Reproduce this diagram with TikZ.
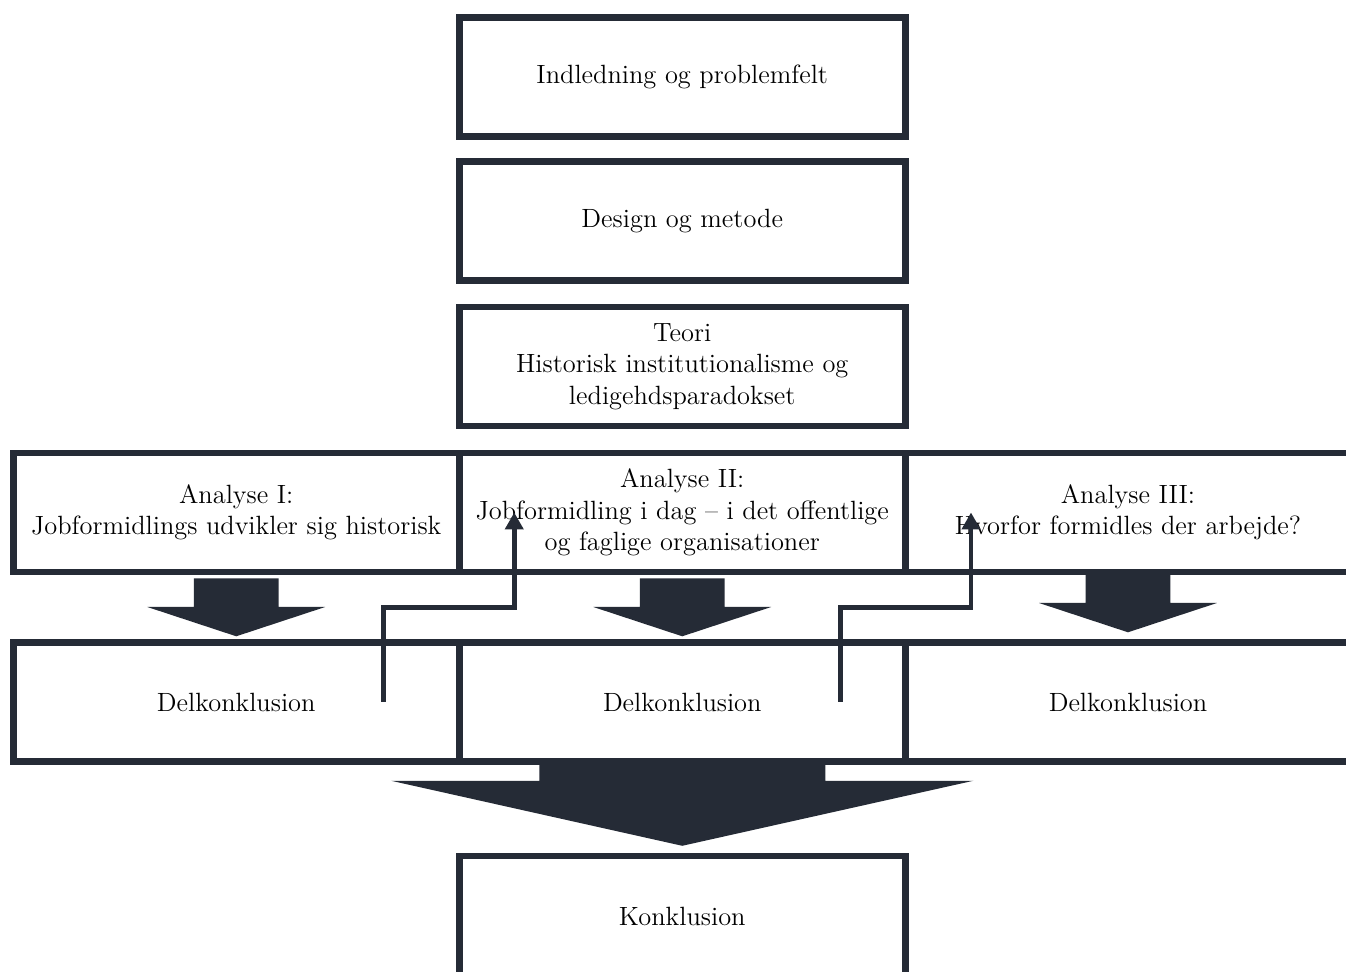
\documentclass[tikz,border=0pt]{standalone}
\usepackage{tikz}
\usetikzlibrary{arrows.meta,calc}
\definecolor{boxnavy}{RGB}{37,43,54}
\tikzset{
  kasse/.style={draw=boxnavy, line width=3.3pt, minimum width=223pt, minimum height=59.5pt,
    inner sep=0pt, align=center, text=black, font=\fontsize{13.2}{15.75}\selectfont},
  tilbage/.style={draw=boxnavy, line width=2.4pt, -{Triangle[length=8.5pt,width=9pt]}},
  blokpil/.pic={\fill[boxnavy] (-42.3,0) -- (42.3,0) -- (42.3,28.7) -- (88.9,28.7)
    -- (0,58) -- (-88.9,28.7) -- (-42.3,28.7) -- cycle;},
  storpil/.pic={\fill[boxnavy] (-143,-3) -- (143,-3) -- (143,16) -- (291,16)
    -- (0,81) -- (-291,16) -- (-143,16) -- cycle;},
}

\begin{document}
\begin{tikzpicture}[x=0.5pt, y=-0.5pt]
	\clip (0,0) rectangle (1346,972);
	\fill[white] (0,0) rectangle (1346,972);
	% kolonnen i midten
	\node[kasse] (intro) at (682.25,76.75) {Indledning og problemfelt};
	\node[kasse] (design) at (682.25,221) {Design og metode};
	\node[kasse] (teori) at (682.25,366.5) {Teori\\Historisk institutionalisme og\\ledigehdsparadokset};
	% analyserne
	\node[kasse] (ana1) at (236.25,512.5) {Analyse I:\\Jobformidlings udvikler sig historisk};
	\node[kasse] (ana2) at (682.25,512.5) {Analyse II:\\Jobformidling i dag – i det offentlige\\og faglige organisationer};
	\node[kasse] (ana3) at (1128,512.5) {Analyse III:\\Hvorfor formidles der arbejde?};
	% delkonklusioner
	\node[kasse] (del1) at (236.25,702) {Delkonklusion};
	\node[kasse] (del2) at (682.25,702) {Delkonklusion};
	\node[kasse] (del3) at (1128,702) {Delkonklusion};
	\node[kasse, minimum height=60pt] (konk) at (682.25,916) {Konklusion};
	% blokpile
	\pic at ($(ana1.south)+(0,3)$) {blokpil};
	\pic at ($(ana2.south)+(0,3)$) {blokpil};
	\pic at ($(ana3.south)+(0,-1)$) {blokpil};
	\pic at (del2.south) {storpil};
	% pile tilbage til naeste analyse
	\coordinate (gap1) at ($(ana1.south)!0.5!(del1.north)$);
	\coordinate (gap2) at ($(ana2.south)!0.5!(del2.north)$);
	\coordinate (s1) at ($(del1.center)+(147,0)$);
	\coordinate (e1) at ($(ana2.center)+(-168,0)$);
	\coordinate (s2) at ($(del2.center)+(158,0)$);
	\coordinate (e2) at ($(ana3.center)+(-157,0)$);
	\draw[tilbage] (s1) |- (e1 |- gap1) -- (e1);
	\draw[tilbage] (s2) |- (e2 |- gap2) -- (e2);
\end{tikzpicture}
\end{document}
